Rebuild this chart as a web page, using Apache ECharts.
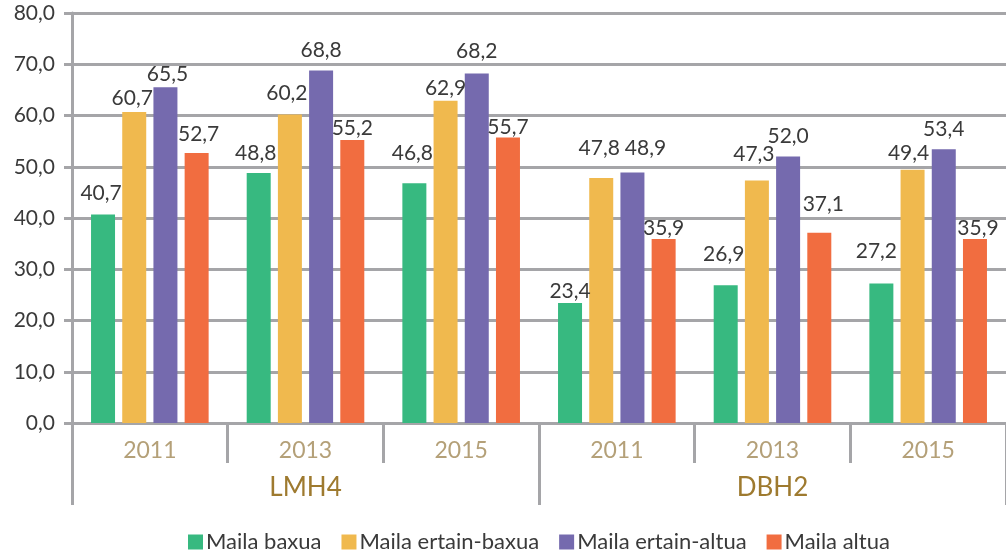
<!DOCTYPE html>
<html>
<head>
<meta charset="utf-8">
<script src="https://cdn.jsdelivr.net/npm/echarts@6/dist/echarts.min.js"></script>
<style>
  html, body { margin: 0; padding: 0; background: #fff; }
  #chart { width: 1006px; height: 551px; }
</style>
</head>
<body>
<div id="chart"></div>
<script>
// Years shown under each group, and the two groups
const years = ['2011', '2013', '2015', '2011', '2013', '2015'];
const groups = ['LMH4', 'DBH2'];

// Share of students per level (%), one value per year column
const seriesNames = ['Maila baxua', 'Maila ertain-baxua', 'Maila ertain-altua', 'Maila altua'];
const mailaBaxua       = [40.7, 48.8, 46.8, 23.4, 26.9, 27.2];
const mailaErtainBaxua = [60.7, 60.2, 62.9, 47.8, 47.3, 49.4];
const mailaErtainAltua = [65.5, 68.8, 68.2, 48.9, 52.0, 53.4];
const mailaAltua       = [52.7, 55.2, 55.7, 35.9, 37.1, 35.9];

// Y axis range
const yMin = 0, yMax = 80, yStep = 10;

// Label nudges (px) so neighbouring value labels don't crowd each other
const labelLift = [
  [10, 8, 18, 0, 19, 21],
  [2, 10, 1, 18, 15, 5],
  [2, 9, 11, 13, 9, 9],
  [7, 0, -1, -1, 17, -1]
];
const labelShiftX = [
  [-2, -3, -2, 0, -2, -5],
  [-2, -3, 0, -2, -3, -4],
  [2, 0, 0, 13, 0, 0],
  [2, 0, 0, 0, 4, 3]
];

const colors = ['#37b980', '#f0b94e', '#756aae', '#f16d40'];
const FONT = 'Lato, "Open Sans", sans-serif';
const GRAY = '#a5a5a8';
const TEXT = '#3a3a3a';
const fmt = v => Number(v).toFixed(1).replace('.', ',');

const values = [mailaBaxua, mailaErtainBaxua, mailaErtainAltua, mailaAltua];

const chart = echarts.init(document.getElementById('chart'), null, { renderer: 'canvas' });

chart.setOption({
  animation: false,
  textStyle: { fontFamily: FONT },
  grid: { left: 72, top: 13, width: 940, bottom: 128, containLabel: false },
  legend: {
    left: 183,
    top: 526,
    icon: 'rect',
    itemWidth: 15,
    itemHeight: 15,
    itemGap: 20,
    textStyle: { fontFamily: FONT, fontSize: 22, color: TEXT, padding: [0, 0, 0, -2] },
    data: seriesNames
  },
  xAxis: [
    {
      type: 'category',
      data: years,
      position: 'bottom',
      axisLine: { show: true, lineStyle: { color: GRAY, width: 3 } },
      axisTick: { show: true, interval: 0, length: 40, lineStyle: { color: GRAY, width: 3 } },
      axisLabel: {
        interval: 0, margin: 16,
        fontFamily: FONT, fontSize: 23, color: '#b4a078'
      },
      splitLine: { show: false }
    },
    {
      type: 'category',
      data: groups,
      position: 'bottom',
      axisLine: { show: false },
      axisTick: { show: true, interval: 0, length: 82, lineStyle: { color: GRAY, width: 3 } },
      axisLabel: {
        interval: 0, margin: 52,
        fontFamily: FONT, fontSize: 26, color: '#9e7a2f'
      },
      splitLine: { show: false }
    }
  ],
  yAxis: {
    type: 'value',
    min: yMin,
    max: yMax,
    interval: yStep,
    axisLine: { show: true, lineStyle: { color: GRAY, width: 3 } },
    axisTick: { show: true, length: 8, lineStyle: { color: GRAY, width: 3 } },
    axisLabel: {
      margin: 17,
      fontFamily: FONT, fontSize: 21, color: TEXT,
      padding: [6, 0, 0, 0],
      formatter: fmt
    },
    splitLine: { show: true, lineStyle: { color: GRAY, width: 3 } }
  },
  series: values.map((arr, s) => ({
    name: seriesNames[s],
    type: 'bar',
    xAxisIndex: 0,
    barWidth: 24,
    barGap: '30%',
    itemStyle: { color: colors[s] },
    label: {
      show: true,
      position: 'top',
      distance: 1,
      fontFamily: FONT,
      fontSize: 21,
      color: TEXT,
      formatter: p => fmt(p.value)
    },
    data: arr.map((v, i) => ({
      value: v,
      label: { offset: [labelShiftX[s][i], -labelLift[s][i]] }
    }))
  }))
});
</script>
</body>
</html>
